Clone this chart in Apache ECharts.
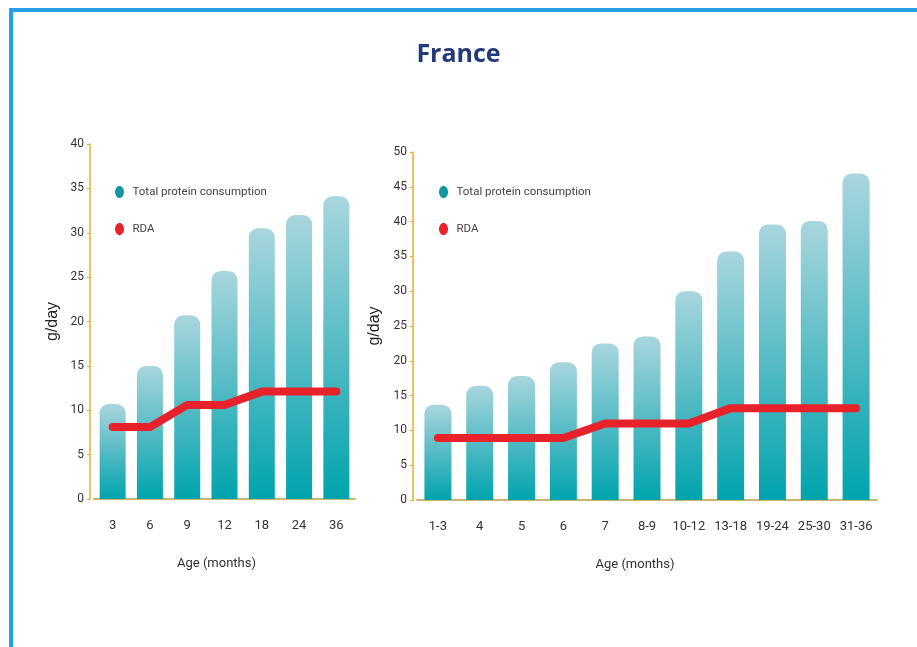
<!DOCTYPE html>
<html>
<head>
<meta charset="utf-8">
<script src="https://cdn.jsdelivr.net/npm/echarts@6/dist/echarts.min.js"></script>
<style>
  html, body { margin: 0; padding: 0; background: #fff; }
  #frame { position: absolute; left: 9px; top: 8px; width: 920px; height: 650px;
           border-left: 4px solid #24a0e6; border-top: 4px solid #24a0e6; }
  #chart { position: absolute; left: 0; top: 0; width: 917px; height: 647px; }
</style>
</head>
<body>
<div id="frame"></div>
<div id="chart"></div>
<script>
// Protein intake vs recommended daily allowance, France
const ageMonthsA = ['3', '6', '9', '12', '18', '24', '36'];
const proteinA = [10.7, 15.0, 20.7, 25.7, 30.5, 32.0, 34.1];
const rdaA = [8.1, 8.1, 10.6, 10.6, 12.1, 12.1, 12.1];

const ageMonthsB = ['1-3', '4', '5', '6', '7', '8-9', '10-12', '13-18', '19-24', '25-30', '31-36'];
const proteinB = [13.7, 16.4, 17.8, 19.8, 22.5, 23.5, 30.0, 35.7, 39.6, 40.1, 46.9];
const rdaB = [8.9, 8.9, 8.9, 8.9, 11.0, 11.0, 11.0, 13.2, 13.2, 13.2, 13.2];

const yTicksA = { min: 0, max: 40, interval: 5 };
const yTicksB = { min: 0, max: 50, interval: 5 };

const NARROW = "Roboto, 'Liberation Sans', sans-serif";
const TEAL = '#1296a4';
const RED = '#e8222b';

const barFill = new echarts.graphic.LinearGradient(0, 0, 0, 1, [
  { offset: 0, color: '#a9d6dd' },
  { offset: 0.5, color: '#55bbc5' },
  { offset: 1, color: '#00a4ad' }
]);

const ellipse = 'path://M45,0 C70,0 90,27 90,60 C90,93 70,120 45,120 C20,120 0,93 0,60 C0,27 20,0 45,0 Z';

function legendAt(left, top) {
  return {
    orient: 'vertical', left: left, top: top,
    itemWidth: 16, itemHeight: 12, itemGap: 25,
    icon: ellipse,
    selectedMode: false,
    textStyle: { fontFamily: NARROW, fontSize: 11.5, color: '#444' },
    data: [
      { name: 'Total protein consumption', itemStyle: { color: TEAL } },
      { name: 'RDA', itemStyle: { color: RED } }
    ]
  };
}

function xAxisFor(cats, gridIndex, padRight) {
  return {
    type: 'category', gridIndex: gridIndex, data: cats,
    name: 'Age (months)', nameLocation: 'middle', nameGap: 58,
    nameTextStyle: { fontFamily: NARROW, fontSize: 13, color: '#333', padding: [0, padRight, 0, 0] },
    axisLine: { lineStyle: { color: '#cbb56c', width: 2 } },
    axisTick: { show: false },
    axisLabel: { fontFamily: NARROW, fontSize: 13, color: '#333', margin: 20, interval: 0 }
  };
}

function yAxisFor(ticks, gridIndex) {
  return {
    type: 'value', gridIndex: gridIndex, min: ticks.min, max: ticks.max, interval: ticks.interval,
    offset: 4,
    name: 'g/day', nameLocation: 'middle', nameGap: 29, nameRotate: 90,
    nameTextStyle: { fontFamily: "'Liberation Sans', sans-serif", fontSize: 16, color: '#222' },
    axisLine: { show: true, lineStyle: { color: '#dcb42c', width: 1.5 } },
    axisTick: { show: true, length: 3, lineStyle: { color: '#dcb42c' } },
    splitLine: { show: false },
    axisLabel: { fontFamily: NARROW, fontSize: 12, color: '#333', margin: 6 }
  };
}

function bars(data, idx, width) {
  return {
    name: 'Total protein consumption', type: 'bar', xAxisIndex: idx, yAxisIndex: idx,
    data: data, barWidth: width,
    itemStyle: { color: barFill, borderRadius: [9, 9, 0, 0] },
    z: 2
  };
}

function rdaLine(data, idx) {
  return {
    name: 'RDA', type: 'line', xAxisIndex: idx, yAxisIndex: idx,
    data: data, symbol: 'none', smooth: false,
    lineStyle: { color: RED, width: 8, cap: 'round', join: 'round' },
    itemStyle: { color: RED },
    z: 3
  };
}

const chart = echarts.init(document.getElementById('chart'), null, { renderer: 'canvas' });
chart.setOption({
  animation: false,
  backgroundColor: 'transparent',
  title: {
    text: 'France', left: 'center', top: 37,
    textStyle: { fontFamily: "'Open Sans', sans-serif", fontWeight: 'bold', fontSize: 25, color: '#233a7a' }
  },
  legend: [legendAt(110, 181), legendAt(434, 181)],
  grid: [
    { left: 94, top: 144, width: 261, height: 355 },
    { left: 417, top: 152, width: 460, height: 348 }
  ],
  xAxis: [xAxisFor(ageMonthsA, 0, 16), xAxisFor(ageMonthsB, 1, 24)],
  yAxis: [yAxisFor(yTicksA, 0), yAxisFor(yTicksB, 1)],
  series: [
    bars(proteinA, 0, 26), rdaLine(rdaA, 0),
    bars(proteinB, 1, 27), rdaLine(rdaB, 1)
  ]
});
</script>
</body>
</html>
